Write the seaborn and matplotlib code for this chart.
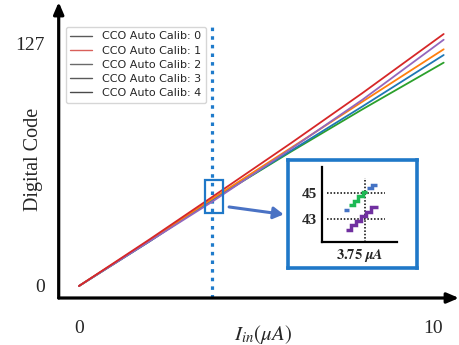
import numpy as np
import pandas as pd
import matplotlib
matplotlib.use("Agg")
import matplotlib.pyplot as plt
import seaborn as sns
from matplotlib.lines import Line2D
from matplotlib.patches import Rectangle

# ---- transfer curves: input current (uA) vs. output digital code ----
current_ua = [0.0, 2.0, 3.75, 6.0, 8.0, 10.3]
code_calib0 = [0, 24.5, 46.5, 75.0, 101.0, 132.0]   # red
code_calib1 = [0, 23.5, 44.0, 72.0, 97.5, 129.0]    # purple
code_calib2 = [0, 24.0, 45.5, 72.5, 96.5, 124.0]    # orange
code_calib3 = [0, 23.5, 45.0, 71.0, 94.0, 121.0]    # blue
code_calib4 = [0, 23.5, 45.0, 70.5, 92.5, 117.0]    # green

series_names = ["Calib 0", "Calib 1", "Calib 2", "Calib 3", "Calib 4"]
series_colors = ["#d62728", "#9467bd", "#ff7f0e", "#1f77b4", "#2ca02c"]
legend_labels = [f"CCO Auto Calib: {i}" for i in range(5)]
legend_colors = ["#5a5a5a", "#d9605a", "#6a6a6a", "#5a5a5a", "#4a4a4a"]

x_ticks = [0, 10]
y_ticks = [0, 127]
marker_current = 3.75

# ---- zoomed staircase detail around 3.75 uA ----
step_blue_lo_x = [3.653, 3.676]
step_blue_lo_y = [43.7]
step_green_x = [3.676, 3.697, 3.718, 3.739, 3.760]
step_green_y = [44.05, 44.4, 44.75, 45.1]
step_blue_hi_x = [3.760, 3.781, 3.807]
step_blue_hi_y = [45.4, 45.65]
step_purple_x = [3.662, 3.685, 3.709, 3.732, 3.755, 3.779, 3.812]
step_purple_y = [42.15, 42.5, 42.85, 43.2, 43.55, 43.9]
inset_ticks = [43, 45]

sns.set_style("white")
plt.rcParams["font.family"] = ["Liberation Serif", "DejaVu Serif"]
plt.rcParams["mathtext.fontset"] = "stix"

W, H = 459, 345
fig = plt.figure(figsize=(W / 100, H / 100), dpi=100)


def px_box(x0, y0, x1, y1):
    """figure-fraction rect from pixel corners (top-left origin)."""
    return [x0 / W, (H - y1) / H, (x1 - x0) / W, (y1 - y0) / H]


ax = fig.add_axes(px_box(58.7, 5, 455, 298))
ax.set_xlim(-0.573, 10.62)
ax.set_ylim(-6.29, 147.2)

rows = []
for name, vals in zip(series_names,
                      [code_calib0, code_calib1, code_calib2, code_calib3, code_calib4]):
    for x, y in zip(current_ua, vals):
        rows.append({"current": x, "code": y, "calib": name})
df = pd.DataFrame(rows)
sns.lineplot(data=df, x="current", y="code", hue="calib",
             palette=dict(zip(series_names, series_colors)),
             hue_order=series_names[::-1], linewidth=1.3, legend=False, ax=ax,
             sort=False, zorder=3)

for s in ax.spines.values():
    s.set_visible(False)

# axes drawn as arrows
ax.annotate("", xy=(1.01, 0), xytext=(0, 0), xycoords="axes fraction",
            arrowprops=dict(arrowstyle="-|>,head_length=0.7,head_width=0.3",
                            lw=2.3, color="black", shrinkA=0, shrinkB=0),
            annotation_clip=False)
ax.annotate("", xy=(0, 1.01), xytext=(0, 0), xycoords="axes fraction",
            arrowprops=dict(arrowstyle="-|>,head_length=0.7,head_width=0.3",
                            lw=2.3, color="black", shrinkA=0, shrinkB=0),
            annotation_clip=False)

ax.set_xticks(x_ticks)
ax.set_yticks(y_ticks)
ax.tick_params(axis="x", length=0, pad=16, labelsize=14)
ax.tick_params(axis="y", length=0, pad=10, labelsize=14)
ax.set_xlabel(r"$I_{in}(\mu A)$", fontsize=15)
ax.xaxis.set_label_coords(0.5155, -0.085)
ax.set_ylabel("Digital Code", fontsize=14.5)
ax.yaxis.set_label_coords(-0.04, 0.473)

# vertical marker at 3.75 uA
ax.vlines(marker_current, -6.29, 135.7, colors="#1f7bcb", lw=2.3,
          linestyles=(0, (1.1, 1.6)), zorder=2)
# highlight box and pointer arrow
ax.add_patch(Rectangle((3.56, 38.2), 0.51, 17.3, fill=False,
                       edgecolor="#1f78c8", lw=1.6, zorder=4))
ax.annotate("", xy=(5.78, 37.5), xytext=(4.24, 41.4),
            arrowprops=dict(arrowstyle="-|>,head_length=0.6,head_width=0.35",
                            lw=2.2, color="#4a72c4", shrinkA=0, shrinkB=0),
            zorder=4)

handles = [Line2D([], [], color=c, lw=1.0) for c in legend_colors]
leg = ax.legend(handles, legend_labels, loc="upper left",
                bbox_to_anchor=(0.0176, 0.925), borderaxespad=0,
                prop={"family": "DejaVu Sans", "size": 8},
                labelspacing=0.38, handlelength=2.0, handletextpad=0.9,
                frameon=True, fancybox=True, edgecolor="#cccccc")

# ---- inset frame ----
frame = fig.add_axes(px_box(288, 160, 417, 268))
frame.set_xticks([])
frame.set_yticks([])
frame.set_facecolor("white")
for s in frame.spines.values():
    s.set_edgecolor("#1f78c8")
    s.set_linewidth(2.6)
frame.set_zorder(5)

ins = fig.add_axes(px_box(322, 167, 397, 242))
ins.set_zorder(6)
ins.patch.set_alpha(0)
ins.set_xlim(3.55, 3.90)
ins.set_ylim(41.23, 47.0)
for k in ("top", "right"):
    ins.spines[k].set_visible(False)
for k in ("left", "bottom"):
    ins.spines[k].set_color("black")
    ins.spines[k].set_linewidth(1.6)
ins.set_xticks([])
ins.set_yticks(inset_ticks)
ins.set_yticklabels([str(t) for t in inset_ticks], fontweight="bold", fontsize=11)
ins.tick_params(axis="y", length=0, pad=3.5)

ins.hlines(inset_ticks, 3.573, 3.844, colors="black", lw=1.1,
           linestyles=(0, (1, 1.2)))
ins.vlines(marker_current, 41.23, 46.15, colors="black", lw=1.1,
           linestyles=(0, (1, 1.2)))


def draw_steps(a, edges, levels, color):
    a.stairs(levels, edges, baseline=None, color=color, lw=2.5,
             linestyle="solid", joinstyle="miter", zorder=3)


draw_steps(ins, step_blue_lo_x, step_blue_lo_y, "#4472c4")
draw_steps(ins, step_green_x, step_green_y, "#1db954")
draw_steps(ins, step_blue_hi_x, step_blue_hi_y, "#4472c4")
draw_steps(ins, step_purple_x, step_purple_y, "#7030a0")

fig.text(360 / W, 1 - 255 / H, r"$\mathbf{3.75}\ \boldsymbol{\mu A}$",
         ha="center", va="center", fontsize=10.5, zorder=7)

fig.savefig("out.png", dpi=100)
